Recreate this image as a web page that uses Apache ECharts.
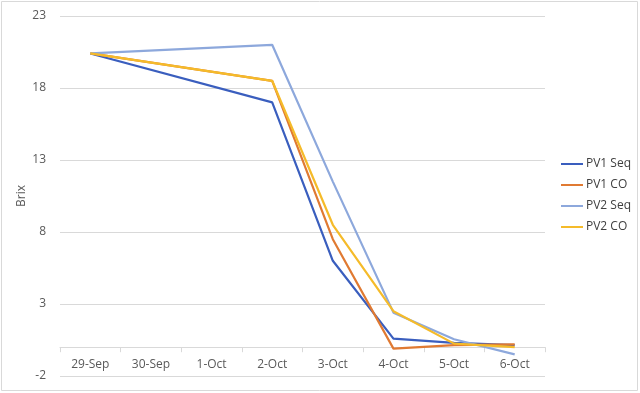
<!DOCTYPE html>
<html><head><meta charset="utf-8">
<script src="https://cdn.jsdelivr.net/npm/echarts@6/dist/echarts.min.js"></script>
<style>html,body{margin:0;padding:0;background:#fff}#c{width:640px;height:393px}</style>
</head><body><div id="c"></div>
<script>
const categories = ['29-Sep','30-Sep','1-Oct','2-Oct','3-Oct','4-Oct','5-Oct','6-Oct'];
const pv1Seq = [20.4, null, null, 17.0, 6.0, 0.6, 0.3, 0.15];
const pv1CO  = [20.4, null, null, 18.5, 7.5, -0.1, 0.15, 0.2];
const pv2Seq = [20.4, null, null, 21.0, 11.5, 2.4, 0.55, -0.5];
const pv2CO  = [20.4, null, null, 18.5, 8.5, 2.5, 0.25, 0.0];
const yTicks = [-2, 3, 8, 13, 18, 23];

const font = 'Open Sans, Liberation Sans, sans-serif';
const chart = echarts.init(document.getElementById('c'), null, {renderer:'canvas'});
function s(name, data, color){
  return {name, type:'line', data, connectNulls:true, symbol:'none', smooth:false,
    lineStyle:{color, width:2.2}, itemStyle:{color}};
}
chart.setOption({
  animation:false,
  graphic:[
    {type:'rect', shape:{x:1.5,y:1.5,width:636,height:389}, style:{fill:null, stroke:'#D9D9D9', lineWidth:1}},
    {type:'text', x:22, y:196, rotation:Math.PI/2, style:{text:'Brix', font:'12px ' + font, fill:'#595959', align:'center', verticalAlign:'middle'}}
  ],
  grid:{left:60, right:95, top:16, bottom:17, outerBoundsMode:'none', containLabel:false},
  legend:{orient:'vertical', left:556, top:153, itemWidth:22, itemHeight:2, itemGap:9,
    icon:'rect', textStyle:{fontFamily:font, fontSize:12, color:'#404040', padding:[0,0,0,-2]},
    data:['PV1 Seq','PV1 CO','PV2 Seq','PV2 CO']},
  xAxis:{type:'category', data:categories, boundaryGap:true,
    axisLine:{onZero:true, lineStyle:{color:'#D9D9D9', width:1}},
    axisTick:{show:true, length:5, lineStyle:{color:'#D9D9D9'}},
    axisLabel:{fontFamily:font, fontSize:12, color:'#595959', margin:-17}},
  yAxis:{type:'value', min:-2, max:23, interval:5,
    axisLine:{show:false}, axisTick:{show:false},
    axisLabel:{fontFamily:font, fontSize:12, color:'#595959', margin:14},
    splitLine:{lineStyle:{color:'#D9D9D9', width:1}}},
  series:[
    s('PV1 Seq', pv1Seq, '#3A5EBE'),
    s('PV1 CO', pv1CO, '#E07A32'),
    s('PV2 Seq', pv2Seq, '#8DA8DC'),
    s('PV2 CO', pv2CO, '#F5BB2A')
  ]
});
</script></body></html>
